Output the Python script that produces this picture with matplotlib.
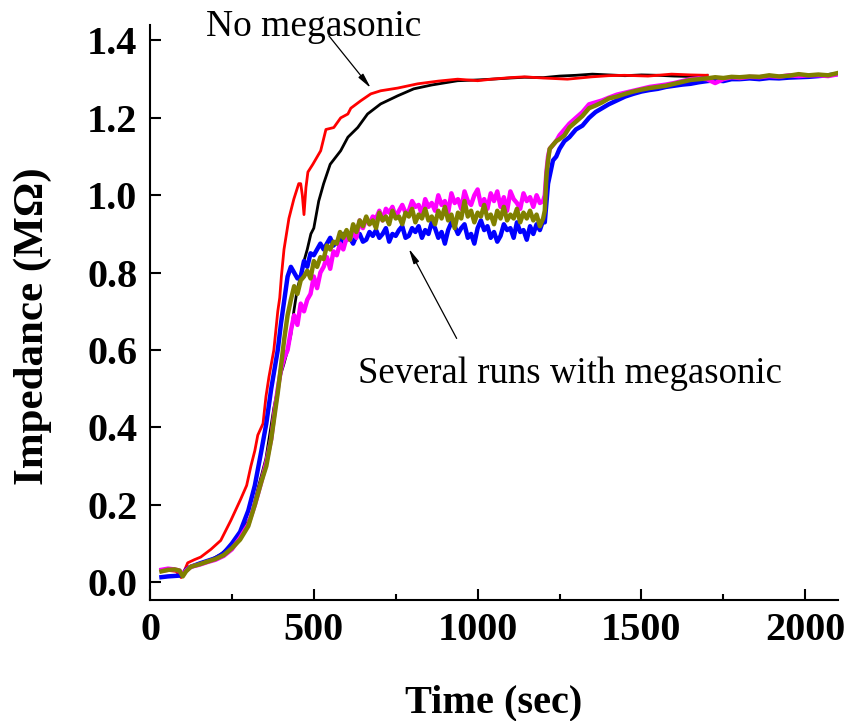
import matplotlib
matplotlib.use("Agg")
import matplotlib.pyplot as plt
from matplotlib.ticker import MultipleLocator

# --- runs without megasonic agitation ---
t_red = [35, 60, 80, 95, 105, 115, 135, 155, 186, 216, 247, 277, 295, 308, 320, 329,
         345, 354, 363, 378, 390, 396, 401, 409, 424, 439, 454, 460, 465, 470, 476,
         482, 497, 521, 537, 561, 582, 604, 613, 643, 674, 704, 756, 817, 880, 939,
         1000, 1043, 1100, 1143, 1200, 1274, 1348, 1400, 1448, 1520, 1592, 1650, 1701]
z_red = [0.028, 0.030, 0.028, 0.012, 0.030, 0.050, 0.058, 0.065, 0.085, 0.108, 0.160,
         0.215, 0.250, 0.300, 0.340, 0.380, 0.410, 0.480, 0.530, 0.600, 0.700, 0.735,
         0.790, 0.860, 0.940, 0.990, 1.030, 1.030, 1.000, 0.950, 1.020, 1.060, 1.080,
         1.115, 1.170, 1.175, 1.200, 1.210, 1.225, 1.244, 1.262, 1.270, 1.277, 1.288,
         1.295, 1.300, 1.296, 1.300, 1.304, 1.306, 1.303, 1.300, 1.306, 1.309, 1.310,
         1.308, 1.313, 1.311, 1.310]

t_black = [35, 60, 80, 95, 110, 120, 150, 186, 216, 247, 277, 308, 329, 354, 378, 400,
           409, 420, 430, 439, 450, 460, 470, 480, 491, 500, 515, 530, 550, 582, 604,
           634, 664, 704, 756, 805, 860, 939, 1000, 1043, 1100, 1143, 1200, 1250, 1300,
           1350, 1400, 1450, 1500, 1550, 1600, 1650, 1700]
z_black = [0.030, 0.032, 0.030, 0.020, 0.030, 0.040, 0.048, 0.058, 0.072, 0.095, 0.125,
           0.170, 0.240, 0.320, 0.450, 0.540, 0.565, 0.600, 0.640, 0.700, 0.760, 0.790,
           0.830, 0.860, 0.900, 0.915, 0.985, 1.030, 1.080, 1.115, 1.150, 1.175, 1.210,
           1.236, 1.257, 1.275, 1.285, 1.296, 1.298, 1.300, 1.303, 1.305, 1.304, 1.308,
           1.310, 1.313, 1.311, 1.309, 1.311, 1.310, 1.308, 1.307, 1.310]

# --- runs with megasonic agitation (shared sampling instants) ---
t_meg = [35, 55, 75, 90, 100, 110, 125, 150, 175, 200, 225, 250, 275, 300, 320, 340, 355, 370,
         380, 390, 400, 410, 420, 430, 440, 450, 460, 470,
         480, 490, 500, 510, 520, 530, 540, 550, 560, 570,
         580, 590, 600, 610, 620, 630, 640, 650, 660, 670,
         680, 690, 700, 710, 720, 730, 740, 750, 760, 770,
         780, 790, 800, 810, 820, 830, 840, 850, 860, 870,
         880, 890, 900, 910, 920, 930, 940, 950, 960, 970,
         980, 990, 1000, 1010, 1020, 1030, 1040, 1050, 1060, 1070,
         1080, 1090, 1100, 1110, 1120, 1130, 1140, 1150, 1160, 1170,
         1180, 1190, 1200,
         1205, 1210, 1215, 1220, 1230, 1240, 1250, 1265, 1280, 1300, 1320, 1340, 1360,
         1380, 1400, 1425, 1450, 1475, 1500, 1525, 1550, 1575, 1600, 1625, 1650, 1675,
         1700, 1725, 1750, 1775, 1800, 1830, 1860, 1890, 1920, 1950, 1980, 2010, 2040,
         2070, 2095]

z_blue = [0.013, 0.015, 0.016, 0.017, 0.020, 0.032, 0.040, 0.048, 0.055, 0.062, 0.075,
          0.100, 0.130, 0.185, 0.250, 0.340, 0.410, 0.500,
          0.550, 0.600, 0.670, 0.730, 0.790, 0.815, 0.800, 0.785, 0.790, 0.830,
          0.815, 0.850, 0.845, 0.860, 0.875, 0.860, 0.875, 0.890, 0.870, 0.880,
          0.870, 0.900, 0.885, 0.890, 0.875, 0.895, 0.900, 0.880, 0.885, 0.905,
          0.895, 0.910, 0.890, 0.900, 0.915, 0.880, 0.900, 0.895, 0.910, 0.920,
          0.890, 0.895, 0.915, 0.905, 0.920, 0.890, 0.910, 0.900, 0.930, 0.915,
          0.890, 0.905, 0.875, 0.910, 0.930, 0.920, 0.900, 0.915, 0.925, 0.890,
          0.900, 0.875, 0.915, 0.935, 0.910, 0.920, 0.890, 0.905, 0.880, 0.895,
          0.925, 0.910, 0.915, 0.890, 0.930, 0.905, 0.910, 0.885, 0.920, 0.900,
          0.925, 0.910, 0.935,
          0.930, 0.980, 1.030, 1.050, 1.090, 1.100, 1.120, 1.140, 1.150, 1.170, 1.180,
          1.200, 1.215, 1.225, 1.235, 1.245, 1.255, 1.262, 1.268, 1.272, 1.275, 1.280,
          1.283, 1.286, 1.288, 1.292, 1.295, 1.297, 1.295, 1.300, 1.300, 1.302, 1.300,
          1.303, 1.302, 1.304, 1.305, 1.306, 1.308, 1.310, 1.313]

z_magenta = [0.032, 0.035, 0.033, 0.030, 0.018, 0.030, 0.040, 0.045, 0.052, 0.058, 0.068,
             0.085, 0.115, 0.150, 0.200, 0.260, 0.310, 0.370,
             0.440, 0.500, 0.550, 0.580, 0.600, 0.650, 0.690, 0.665, 0.720, 0.700,
             0.730, 0.745, 0.790, 0.760, 0.800, 0.815, 0.840, 0.810, 0.855, 0.845,
             0.875, 0.860, 0.890, 0.885, 0.905, 0.890, 0.935, 0.915, 0.940, 0.925,
             0.945, 0.940, 0.960, 0.935, 0.965, 0.955, 0.970, 0.945, 0.960, 0.975,
             0.955, 0.960, 0.985, 0.970, 0.975, 0.950, 0.990, 0.970, 0.980, 0.960,
             1.000, 0.975, 0.985, 0.955, 1.005, 0.980, 0.990, 0.965, 1.010, 0.985,
             0.975, 1.000, 1.015, 0.975, 0.990, 0.965, 1.005, 0.985, 1.010, 0.970,
             0.995, 0.960, 1.010, 0.990, 0.980, 0.965, 1.005, 0.985, 0.995, 0.970,
             1.000, 0.980, 0.985,
             1.000, 1.060, 1.100, 1.120, 1.130, 1.140, 1.155, 1.170, 1.185, 1.200, 1.215,
             1.235, 1.240, 1.245, 1.252, 1.260, 1.265, 1.270, 1.275, 1.280, 1.283, 1.286,
             1.290, 1.295, 1.300, 1.302, 1.300, 1.290, 1.300, 1.305, 1.303, 1.306, 1.305,
             1.308, 1.306, 1.310, 1.308, 1.310, 1.310, 1.308, 1.312]

z_olive = [0.028, 0.032, 0.033, 0.030, 0.015, 0.028, 0.040, 0.046, 0.053, 0.060, 0.070,
           0.088, 0.110, 0.145, 0.200, 0.260, 0.300, 0.370,
           0.430, 0.490, 0.560, 0.630, 0.690, 0.730, 0.765, 0.745, 0.780, 0.790,
           0.805, 0.785, 0.830, 0.815, 0.840, 0.835, 0.870, 0.860, 0.880, 0.875,
           0.905, 0.890, 0.910, 0.885, 0.925, 0.905, 0.935, 0.920, 0.945, 0.925,
           0.935, 0.915, 0.955, 0.935, 0.945, 0.925, 0.960, 0.940, 0.945, 0.925,
           0.955, 0.945, 0.965, 0.930, 0.950, 0.940, 0.965, 0.935, 0.945, 0.925,
           0.960, 0.940, 0.970, 0.935, 0.950, 0.915, 0.955, 0.940, 0.985, 0.945,
           0.960, 0.930, 0.955, 0.945, 0.975, 0.940, 0.950, 0.925, 0.960, 0.940,
           0.970, 0.935, 0.950, 0.940, 0.965, 0.930, 0.955, 0.940, 0.960, 0.935,
           0.950, 0.920, 0.940,
           0.960, 1.050, 1.090, 1.120, 1.130, 1.140, 1.145, 1.155, 1.175, 1.190, 1.205,
           1.225, 1.232, 1.240, 1.250, 1.255, 1.262, 1.268, 1.273, 1.277, 1.280, 1.283,
           1.288, 1.293, 1.298, 1.300, 1.302, 1.305, 1.303, 1.306, 1.305, 1.307, 1.306,
           1.310, 1.307, 1.309, 1.313, 1.310, 1.312, 1.310, 1.315]

x_ticks = [0, 500, 1000, 1500, 2000]
y_ticks = [0.0, 0.2, 0.4, 0.6, 0.8, 1.0, 1.2, 1.4]

serif = ["Liberation Serif", "DejaVu Serif"]
plt.rcParams["font.family"] = serif

fig = plt.figure(figsize=(8.48, 7.21), dpi=100)
ax = fig.add_axes([150 / 848, 121 / 721, 688 / 848, 575 / 721])

ax.plot(t_black, z_black, color="black", lw=2.0)
ax.plot(t_red, z_red, color="#ff0000", lw=2.0)
ax.plot(t_meg, z_blue, color="#0000ff", lw=3.2)
ax.plot(t_meg, z_magenta, color="#ff00ff", lw=3.2)
ax.plot(t_meg, z_olive, color="#808000", lw=3.2)

ax.set_xlim(0, 2100)
ax.set_ylim(-0.046, 1.44)
ax.set_xticks(x_ticks)
ax.set_yticks(y_ticks)
ax.set_xticklabels([str(v) for v in x_ticks])
ax.set_yticklabels([f"{v:.1f}" for v in y_ticks])
ax.xaxis.set_minor_locator(MultipleLocator(250))

for side in ("top", "right"):
    ax.spines[side].set_visible(False)
for side in ("left", "bottom"):
    ax.spines[side].set_linewidth(1.5)

ax.tick_params(which="major", direction="in", length=8, width=1.5,
               labelsize=29, pad=9)
ax.tick_params(which="minor", direction="in", length=4, width=1.5)
for lab in ax.get_xticklabels() + ax.get_yticklabels():
    lab.set_fontweight("bold")

ax.set_xlabel("Time (sec)", fontsize=29, fontweight="bold")
ax.set_ylabel("Impedance (M\u03a9)", fontsize=31, fontweight="bold")
ax.xaxis.set_label_coords(0.5, -0.147)
ax.yaxis.set_label_coords(-0.142, 0.477)

ax.text(171, 1.412, "No megasonic", fontsize=27, ha="left", va="baseline",
        clip_on=False)
ax.text(634, 0.516, "Several runs with megasonic", fontsize=26.5, ha="left",
        va="baseline")

arrow = dict(arrowstyle="-|>,head_width=0.18,head_length=0.9", color="black",
             lw=0.9, shrinkA=0, shrinkB=0)
ax.annotate("", xy=(674, 1.277), xytext=(546, 1.412), arrowprops=arrow,
            annotation_clip=False)
ax.annotate("", xy=(790, 0.862), xytext=(936, 0.630), arrowprops=arrow)

fig.savefig("out.png", dpi=100)
